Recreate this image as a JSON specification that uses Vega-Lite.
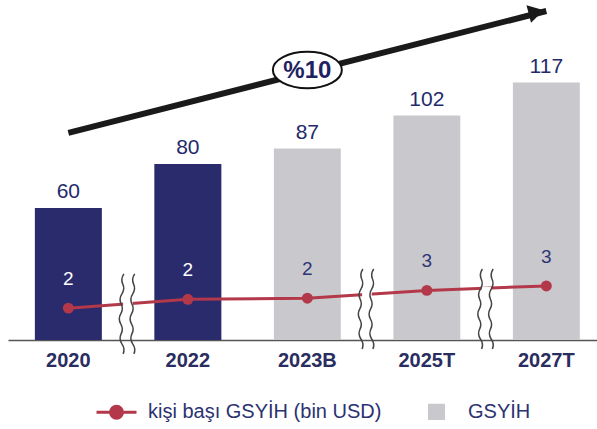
{
  "$schema": "https://vega.github.io/schema/vega-lite/v6.json",
  "width": 589,
  "height": 340,
  "autosize": "none",
  "padding": {"left": 8, "top": 0, "right": 0, "bottom": 89},
  "background": "white",
  "config": {
    "view": {"stroke": null},
    "font": "Liberation Sans",
    "axisX": {
      "ticks": false,
      "labelAngle": 0,
      "labelFont": "Liberation Sans",
      "labelFontSize": 20,
      "labelFontWeight": "bold",
      "labelColor": "#2a2d60",
      "labelPadding": 10,
      "domainColor": "#555555",
      "domainWidth": 1.5,
      "grid": false
    }
  },
  "datasets": {
    "ana": [
      {"yil": "2020", "gsyih": 60, "kisi": 1.75, "durum": "gerçekleşme"},
      {"yil": "2022", "gsyih": 80, "kisi": 2.15, "durum": "gerçekleşme"},
      {"yil": "2023B", "gsyih": 87, "kisi": 2.2, "durum": "beklenti"},
      {"yil": "2025T", "gsyih": 102, "kisi": 2.55, "durum": "tahmin"},
      {"yil": "2027T", "gsyih": 117, "kisi": 2.75, "durum": "tahmin"}
    ],
    "ok": [{"bas": "2020", "son": "2027T", "y1": 94.1, "y2": 149.5}],
    "okucu": [{"yil": "2027T", "y": 149}],
    "oran": [{"yil": "2023B", "y": 122.7, "etiket": "%10"}],
    "kesik": [{"yil": "2020", "y": 1.49}, {"yil": "2023B", "y": 1.71}, {"yil": "2025T", "y": 1.71}]
  },
  "data": {"name": "ana"},
  "encoding": {
    "x": {
      "field": "yil",
      "type": "nominal",
      "title": null,
      "scale": {"domain": ["2020", "2022", "2023B", "2025T", "2027T"], "paddingInner": 0.44, "paddingOuter": 0.1845, "align": 0.61}
    }
  },
  "layer": [
    {
      "layer": [
        {
          "mark": {"type": "bar"},
          "encoding": {
            "y": {"field": "gsyih", "type": "quantitative", "scale": {"domain": [0, 154.5], "nice": false}, "axis": null},
            "color": {
              "datum": "GSYİH",
              "type": "nominal",
              "scale": {"domain": ["kişi başı GSYİH (bin USD)", "GSYİH"], "range": ["#b3384a", "#c9c9cd"]},
              "legend": {
                "title": null,
                "orient": "none",
                "legendX": 87,
                "legendY": 390,
                "direction": "horizontal",
                "symbolSize": 1600,
                "labelFontSize": 20,
                "labelColor": "#2b3270",
                "labelFont": "Liberation Sans",
                "labelOffset": 10,
                "labelLimit": 0,
                "columnPadding": 33,
                "symbolStrokeWidth": 3,
                "encode": {
                  "symbols": {
                    "update": {
                      "shape": {"signal": "datum.value === 'GSYİH' ? 'M -0.35 -0.33 H 0.35 V 0.33 H -0.35 Z' : 'M -1 0 H 1 M -0.3 0 A 0.3 0.3 0 1 0 0.3 0 A 0.3 0.3 0 1 0 -0.3 0 Z'"},
                      "fill": {"signal": "datum.value === 'GSYİH' ? '#c9c9cd' : '#b3384a'"},
                      "stroke": {"signal": "datum.value === 'GSYİH' ? 'transparent' : '#b3384a'"},
                      "strokeWidth": {"value": 3},
                      "opacity": {"value": 1},
                      "fillOpacity": {"value": 1}
                    }
                  }
                }
              }
            }
          }
        },
        {
          "transform": [{"filter": "datum.durum === 'gerçekleşme'"}],
          "mark": {"type": "bar", "color": "#2a2b6d"},
          "encoding": {
            "y": {"field": "gsyih", "type": "quantitative", "scale": {"domain": [0, 154.5], "nice": false}, "axis": null}
          }
        },
        {
          "mark": {"type": "text", "baseline": "alphabetic", "dy": -10, "fontSize": 21, "color": "#232a6b", "font": "Liberation Sans"},
          "encoding": {
            "y": {"field": "gsyih", "type": "quantitative", "scale": {"domain": [0, 154.5], "nice": false}, "axis": null},
            "text": {"field": "gsyih", "type": "quantitative"}
          }
        },
        {
          "data": {"name": "ok"},
          "mark": {"type": "rule", "strokeWidth": 6, "color": "#1a1a1a", "strokeCap": "butt"},
          "encoding": {
            "x": {"field": "bas", "type": "nominal", "title": null},
            "x2": {"field": "son"},
            "y": {"field": "y1", "type": "quantitative", "scale": {"domain": [0, 154.5], "nice": false}, "axis": null},
            "y2": {"field": "y2"}
          }
        },
        {
          "data": {"name": "okucu"},
          "mark": {"type": "point", "shape": "triangle-right", "size": 324, "angle": 345.6, "filled": true, "color": "#1a1a1a", "opacity": 1},
          "encoding": {
            "x": {"field": "yil", "type": "nominal", "bandPosition": 0.35, "title": null},
            "y": {"field": "y", "type": "quantitative", "scale": {"domain": [0, 154.5], "nice": false}, "axis": null}
          }
        },
        {
          "data": {"name": "oran"},
          "mark": {"type": "point", "shape": "M -1 0 A 1 0.53 0 1 0 1 0 A 1 0.53 0 1 0 -1 0 Z", "size": 4761, "fill": "white", "stroke": "#111111", "strokeWidth": 2, "opacity": 1, "filled": true},
          "encoding": {
            "y": {"field": "y", "type": "quantitative", "scale": {"domain": [0, 154.5], "nice": false}, "axis": null}
          }
        },
        {
          "data": {"name": "oran"},
          "mark": {"type": "text", "fontSize": 24, "fontWeight": "bold", "color": "#1d2360", "baseline": "middle", "dy": 1, "font": "Liberation Sans"},
          "encoding": {
            "y": {"field": "y", "type": "quantitative", "scale": {"domain": [0, 154.5], "nice": false}, "axis": null},
            "text": {"field": "etiket"}
          }
        }
      ]
    },
    {
      "layer": [
        {
          "mark": {"type": "line", "strokeWidth": 3},
          "encoding": {
            "y": {"field": "kisi", "type": "quantitative", "scale": {"domain": [0.315, 15.63], "nice": false, "zero": false}, "axis": null},
            "color": {"datum": "kişi başı GSYİH (bin USD)", "type": "nominal"}
          }
        },
        {
          "mark": {"type": "point", "filled": true, "size": 120, "color": "#b3384a", "opacity": 1},
          "encoding": {
            "y": {"field": "kisi", "type": "quantitative", "scale": {"domain": [0.315, 15.63], "nice": false, "zero": false}, "axis": null}
          }
        },
        {
          "mark": {"type": "text", "baseline": "alphabetic", "dy": -23, "fontSize": 19, "font": "Liberation Sans"},
          "encoding": {
            "y": {"field": "kisi", "type": "quantitative", "scale": {"domain": [0.315, 15.63], "nice": false, "zero": false}, "axis": null},
            "text": {"field": "kisi", "type": "quantitative", "format": ".0f"},
            "color": {"condition": {"test": "datum.durum === 'gerçekleşme'", "value": "white"}, "value": "#2f3575"}
          }
        },
        {
          "data": {"name": "kesik"},
          "mark": {"type": "point", "shape": "M -0.12 -0.55 H 0.12 V 0.25 H -0.12 Z", "size": 6400, "fill": "white", "strokeWidth": 0, "opacity": 1, "filled": true},
          "encoding": {
            "x": {"field": "yil", "type": "nominal", "bandPosition": 1.39, "title": null},
            "y": {"field": "y", "type": "quantitative", "scale": {"domain": [0.315, 15.63], "nice": false, "zero": false}, "axis": null}
          }
        },
        {
          "data": {"name": "kesik"},
          "mark": {"type": "point", "shape": "M -0.10 -1 Q -0.185 -0.875 -0.13 -0.75 Q -0.07 -0.625 -0.15 -0.5 Q -0.23 -0.375 -0.17 -0.25 Q -0.105 -0.125 -0.18 0 Q -0.25 0.125 -0.18 0.25 Q -0.105 0.375 -0.17 0.5 Q -0.23 0.625 -0.15 0.75 Q -0.065 0.875 -0.12 1 M 0.17 -1 Q 0.085 -0.875 0.14 -0.75 Q 0.2 -0.625 0.12 -0.5 Q 0.04 -0.375 0.1 -0.25 Q 0.165 -0.125 0.09 0 Q 0.02 0.125 0.09 0.25 Q 0.165 0.375 0.1 0.5 Q 0.04 0.625 0.12 0.75 Q 0.205 0.875 0.15 1", "size": 6400, "filled": false, "stroke": "#444444", "strokeWidth": 1.5, "opacity": 1},
          "encoding": {
            "x": {"field": "yil", "type": "nominal", "bandPosition": 1.39, "title": null},
            "y": {"field": "y", "type": "quantitative", "scale": {"domain": [0.315, 15.63], "nice": false, "zero": false}, "axis": null}
          }
        }
      ]
    }
  ],
  "resolve": {"scale": {"y": "independent"}}
}
